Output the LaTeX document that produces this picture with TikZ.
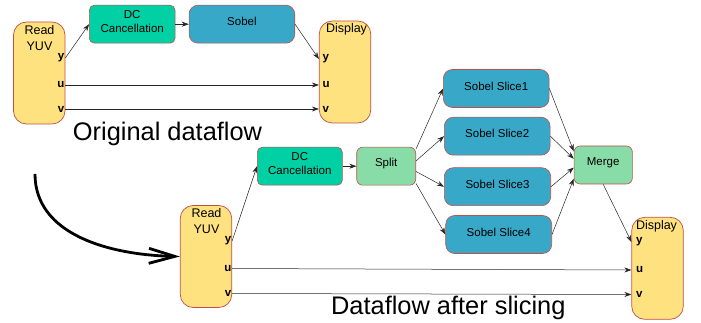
\documentclass[tikz,border=0pt]{standalone}
\usepackage{fontspec}
\setmainfont{Liberation Sans}
\usetikzlibrary{arrows.meta}
\definecolor{yuvyellow}{RGB}{255,226,128}
\definecolor{boxred}{RGB}{190,80,70}
\definecolor{dcgreen}{RGB}{0,208,164}
\definecolor{sobelblue}{RGB}{56,168,200}
\definecolor{mintgreen}{RGB}{136,220,168}
\begin{document}
\begin{tikzpicture}[x=1pt,y=-1pt,
  yuvbox/.style={draw=boxred, line width=0.7pt, fill=yuvyellow, rounded corners=13pt, minimum width=51.5pt, minimum height=102pt, inner sep=0pt},
  stage/.style={draw=boxred, line width=0.6pt, rounded corners=5pt, minimum height=38pt, inner sep=0pt},
  sobelbox/.style={stage, fill=sobelblue, rounded corners=9pt},
  stagelabel/.style={align=center, font=\fontsize{11.5}{14.5}\selectfont, yshift=2.5pt},
  boxtext/.style={align=center, font=\fontsize{12.5}{16}\selectfont, inner sep=0pt},
  port/.style={font=\bfseries\fontsize{11.5}{13}\selectfont, inner sep=0pt},
  flow/.style={draw, black!85, line width=0.5pt, -{Stealth[length=7pt,width=5pt]}},
  title/.style={font=\fontsize{25.4}{30}\selectfont, anchor=base}]
\useasboundingbox (0,0) rectangle (701,323);

\node[yuvbox] (read1) at (39.25,73) {};
\node[boxtext] at (39.5,38) {Read\\YUV};
\node[port, anchor=east] (r1y) at (64.5,58) {y};
\node[port, anchor=east] (r1u) at (64.5,85) {u};
\node[port, anchor=east] (r1v) at (64.5,109) {v};

\node[stage, fill=dcgreen, minimum width=85.7pt, label={[stagelabel]center:DC\\Cancellation}] (dc1) at (132.2,24.2) {};
\node[sobelbox, minimum width=105.7pt, label={[stagelabel]center:Sobel}] (sobel1) at (241.9,24.2) {};

\node[yuvbox] (disp1) at (345,72) {};
\node[boxtext] at (346.5,29) {Display};
\node[port, anchor=west] (d1y) at (322.5,59) {y};
\node[port, anchor=west] (d1u) at (322.5,85) {u};
\node[port, anchor=west] (d1v) at (322.5,109) {v};

\path[flow] (r1y -| read1.east) -- (dc1.west);
\path[flow] (dc1.east) -- (sobel1.west);
\path[flow] (sobel1.east) -- (d1y -| disp1.west);
\path[flow] (r1u -| read1.east) -- (d1u -| disp1.west);
\path[flow] (r1v -| read1.east) -- (d1v -| disp1.west);

\node[title] at (167.5,141) {Original dataflow};

\node[yuvbox] (read2) at (206,256.5) {};
\node[boxtext] at (206.5,221.3) {Read\\YUV};
\node[port, anchor=east] (r2y) at (231.5,241) {y};
\node[port, anchor=east] (r2u) at (231.5,268.5) {u};
\node[port, anchor=east] (r2v) at (231.5,293.5) {v};

\node[stage, fill=dcgreen, minimum width=85pt, label={[stagelabel]center:DC\\Cancellation}] (dc2) at (299.8,166.2) {};
\node[stage, fill=mintgreen, rounded corners=6pt, minimum width=59pt, label={[stagelabel]center:Split}] (split) at (386.2,166.2) {};
\node[sobelbox, minimum width=105.7pt, label={[stagelabel]center:Sobel Slice1}] (slice1) at (496.2,88.5) {};
\node[sobelbox, minimum width=105.7pt, label={[stagelabel]center:Sobel Slice2}] (slice2) at (497.2,136.2) {};
\node[sobelbox, minimum width=106.4pt, label={[stagelabel]center:Sobel Slice3}] (slice3) at (497.5,186.7) {};
\node[sobelbox, minimum width=106pt, label={[stagelabel]center:Sobel Slice4}] (slice4) at (498.7,234.5) {};
\node[stage, fill=mintgreen, rounded corners=6pt, minimum width=58.3pt, label={[stagelabel]center:Merge}] (merge) at (603.2,165) {};

\node[yuvbox] (disp2) at (657.5,268.3) {};
\node[boxtext] at (656.5,226.7) {Display};
\node[port, anchor=west] (d2y) at (636,242) {y};
\node[port, anchor=west] (d2u) at (636,270) {u};
\node[port, anchor=west] (d2v) at (636,294.5) {v};

\path[flow] (r2y -| read2.east) -- (dc2.west);
\path[flow] (dc2.east) -- (split.west);
\path[flow] (split.30) -- (slice1.west);
\path[flow] (split.10) -- (slice2.west);
\path[flow] (split.-10) -- (slice3.west);
\path[flow] (split.-30) -- (slice4.west);
\path[flow] (slice1.east) -- (merge.155);
\path[flow] (slice2.east) -- (merge.168);
\path[flow] (slice3.east) -- (merge.185);
\path[flow] (slice4.east) -- (merge.205);
\path[flow] (merge.south) -- (d2y -| disp2.west);
\path[flow] (r2u -| read2.east) -- (d2u -| disp2.west);
\path[flow] (r2v -| read2.east) -- (d2v -| disp2.west);

\node[title] at (448.3,314.3) {Dataflow after slicing};

\coordinate (turn) at (35,174);
\draw[line width=2.8pt, -{Straight Barb[length=26pt,width=15pt]}] (turn) .. controls (35,235) and (110,255) .. (read2.west);
\end{tikzpicture}
\end{document}
